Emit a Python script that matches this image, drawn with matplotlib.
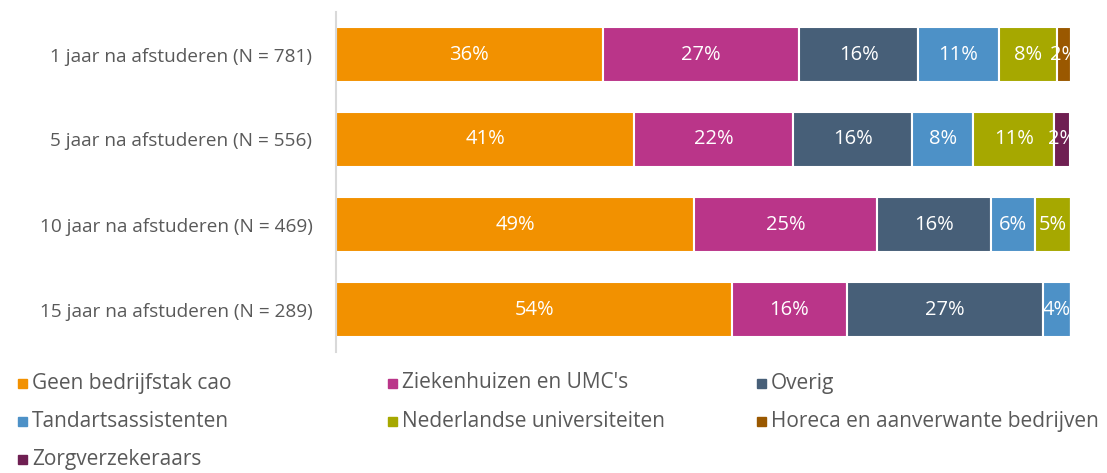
import matplotlib
matplotlib.use("Agg")
import matplotlib.pyplot as plt
from matplotlib.patches import Rectangle
import numpy as np

plt.rcParams['font.family'] = ['Open Sans', 'DejaVu Sans']

categories = ["1 jaar na afstuderen (N = 781)",
              "5 jaar na afstuderen (N = 556)",
              "10 jaar na afstuderen (N = 469)",
              "15 jaar na afstuderen (N = 289)"]

series_names = ["Geen bedrijfstak cao", "Ziekenhuizen en UMC's", "Overig",
                "Tandartsassistenten", "Nederlandse universiteiten",
                "Horeca en aanverwante bedrijven", "Zorgverzekeraars"]

geen = [36.3, 40.6, 48.7, 53.9]
ziekenhuizen = [26.7, 21.6, 24.9, 15.6]
overig = [16.2, 16.2, 15.5, 26.7]
tandarts = [11.0, 8.3, 6.0, 3.8]
universiteiten = [7.9, 11.0, 4.9, 0.0]
horeca = [1.9, 0.0, 0.0, 0.0]
zorgverzekeraars = [0.0, 2.2, 0.0, 0.0]

colors = ["#F29100", "#BA3589", "#475F78", "#4D91C7", "#A6A800", "#9A5800", "#6F1F52"]

series = [geen, ziekenhuizen, overig, tandarts, universiteiten, horeca, zorgverzekeraars]

W, H = 1107, 473
fig = plt.figure(figsize=(W / 100, H / 100), dpi=100)
ax = fig.add_axes([336 / W, 1 - 352 / H, (1071 - 336) / W, (352 - 12) / H])

y = np.arange(len(categories))
left = np.zeros(len(categories))
for name, vals, c in zip(series_names, series, colors):
    vals = np.array(vals)
    ax.barh(y, vals, left=left, height=0.645, color=c,
            edgecolor="white", linewidth=1.5, label=name)
    for yi, (l, v) in enumerate(zip(left, vals)):
        if v > 0:
            ax.text(l + v / 2, yi, f"{round(v):.0f}%", ha="center", va="center",
                    color="white", fontsize=14.5, clip_on=False)
    left += vals

ax.set_ylim(3.5, -0.5)
ax.set_xlim(0, left.max())
ax.set_yticks(y)
ax.set_yticklabels(categories, fontsize=13.7, color="#595959")
ax.tick_params(axis="y", length=0, pad=17)
ax.set_xticks([])
for s in ["top", "right", "bottom"]:
    ax.spines[s].set_visible(False)
ax.spines["left"].set_color("#D9D9D9")
ax.spines["left"].set_linewidth(1.5)

# Legend (row-major, fixed column positions)
col_x = [18, 388, 757]
row_y = [383, 421, 459]
for i, (name, c) in enumerate(zip(series_names, colors)):
    r, k = divmod(i, 3)
    x0, y0 = col_x[k], row_y[r]
    fig.add_artist(Rectangle((x0 / W, 1 - (y0 + 5) / H), 9 / W, 9 / H,
                             transform=fig.transFigure, color=c))
    fig.text((x0 + 14) / W, 1 - y0 / H, name, ha="left", va="center",
             fontsize=15, color="#595959")

fig.savefig("out.png", dpi=100)
